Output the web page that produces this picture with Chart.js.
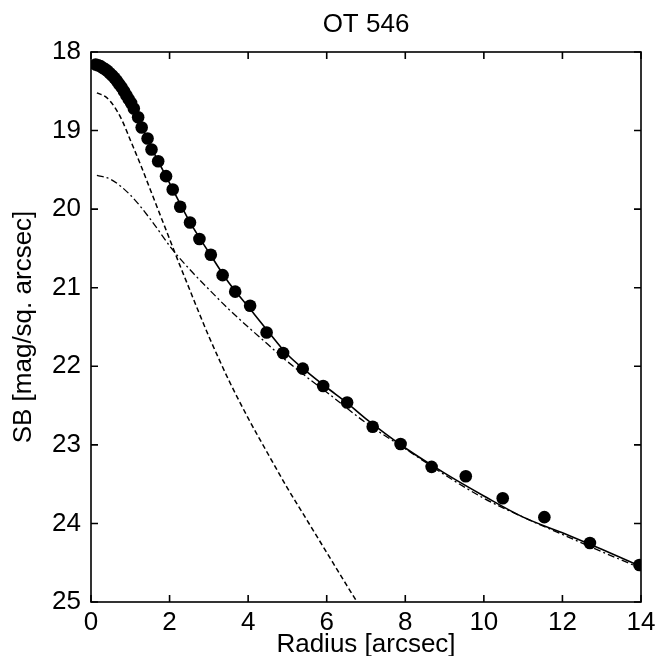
<!DOCTYPE html>
<html>
<head>
<meta charset="utf-8">
<script src="https://cdn.jsdelivr.net/npm/chart.js@4"></script>
<style>
html,body{margin:0;padding:0;background:#fff;}
#wrap{width:661px;height:656px;}
</style>
</head>
<body>
<div id="wrap"><canvas id="c" width="661" height="656"></canvas></div>
<script>
// Observed surface-brightness points
const obsRadius = [0.12,0.18,0.24,0.30,0.36,0.42,0.48,0.54,0.60,0.66,0.72,0.78,0.84,0.90,0.96,1.02,1.09,1.20,1.29,1.44,1.54,1.71,1.91,2.08,2.27,2.52,2.76,3.05,3.35,3.67,4.05,4.47,4.89,5.39,5.91,6.52,7.17,7.88,8.67,9.54,10.48,11.54,12.70,13.96];
const obsSB     = [18.16,18.17,18.18,18.20,18.22,18.24,18.27,18.30,18.33,18.37,18.41,18.45,18.50,18.55,18.60,18.65,18.72,18.83,18.96,19.10,19.24,19.39,19.58,19.75,19.97,20.17,20.38,20.58,20.84,21.05,21.23,21.57,21.83,22.03,22.25,22.46,22.77,22.99,23.28,23.40,23.68,23.92,24.25,24.53];

// Total model (solid)
const totalRadius = [0.10,0.5,1.0,1.5,2.0,2.5,3.0,3.5,4.0,4.5,5.0,5.5,6.0,6.5,7.0,7.5,8.0,9.0,10.0,11.0,12.0,13.0,14.0];
const totalSB     = [18.15,18.26,18.62,19.18,19.67,20.15,20.55,20.93,21.24,21.55,21.85,22.07,22.27,22.46,22.67,22.86,23.04,23.36,23.65,23.92,24.12,24.33,24.55];

// Bulge component (dashed)
const bulgeRadius = [0.15,0.4,0.6,0.8,1.0,1.25,1.5,1.75,2.0,2.25,2.5,2.75,3.0,3.25,3.5,4.0,4.5,5.0,5.5,6.0,6.5,6.75];
const bulgeSB     = [18.52,18.58,18.70,18.88,19.12,19.42,19.74,20.06,20.38,20.70,21.01,21.32,21.62,21.90,22.17,22.66,23.11,23.55,23.96,24.37,24.78,24.98];

// Disk component (dash-dot)
const diskRadius = [0.15,0.5,1.0,1.5,2.05,2.5,3.0,3.5,4.0,4.5,4.81,5.5,6.0,7.0,8.0,9.0,10.0,11.0,12.0,13.0,14.0];
const diskSB     = [19.57,19.62,19.82,20.12,20.50,20.76,21.02,21.27,21.50,21.72,21.86,22.14,22.33,22.72,23.05,23.38,23.68,23.92,24.14,24.36,24.57];

const xTicks = [0,2,4,6,8,10,12,14];
const yTicks = [18,19,20,21,22,23,24,25];

const titleText = 'OT 546';
const xTitle = 'Radius [arcsec]';
const yTitle = 'SB [mag/sq. arcsec]';

const pts = (xs, ys) => xs.map((x, i) => ({x: x, y: ys[i]}));
const FONT = "'Liberation Sans', Arial, Helvetica, sans-serif";

const boxPlugin = {
  id: 'boxPlugin',
  afterDatasetsDraw(chart) {
    const {ctx, chartArea: a, scales} = chart;
    ctx.save();
    ctx.strokeStyle = '#000';
    ctx.lineWidth = 1.6;
    ctx.strokeRect(a.left, a.top, a.right - a.left, a.bottom - a.top);
    const L = 7;
    ctx.beginPath();
    xTicks.forEach(v => {
      const px = scales.x.getPixelForValue(v);
      ctx.moveTo(px, a.bottom); ctx.lineTo(px, a.bottom - L);
      ctx.moveTo(px, a.top); ctx.lineTo(px, a.top + L);
    });
    yTicks.forEach(v => {
      const py = scales.y.getPixelForValue(v);
      ctx.moveTo(a.left, py); ctx.lineTo(a.left + L, py);
      ctx.moveTo(a.right, py); ctx.lineTo(a.right - L, py);
    });
    ctx.stroke();
    // title centred over the plot box
    ctx.fillStyle = '#000';
    ctx.font = '26px ' + FONT;
    ctx.textAlign = 'center';
    ctx.textBaseline = 'middle';
    ctx.fillText(titleText, (a.left + a.right) / 2, 25);
    ctx.restore();
  }
};

new Chart(document.getElementById('c'), {
  type: 'scatter',
  data: {
    datasets: [
      {
        label: 'bulge',
        data: pts(bulgeRadius, bulgeSB),
        showLine: true,
        borderColor: '#000',
        borderWidth: 1.5,
        borderDash: [5, 3],
        pointRadius: 0,
        cubicInterpolationMode: 'monotone',
        order: 3
      },
      {
        label: 'disk',
        data: pts(diskRadius, diskSB),
        showLine: true,
        borderColor: '#000',
        borderWidth: 1.3,
        borderDash: [7, 3, 2, 3],
        pointRadius: 0,
        cubicInterpolationMode: 'monotone',
        order: 2
      },
      {
        label: 'total',
        data: pts(totalRadius, totalSB),
        showLine: true,
        borderColor: '#000',
        borderWidth: 1.6,
        pointRadius: 0,
        cubicInterpolationMode: 'monotone',
        order: 1
      },
      {
        label: 'observed',
        data: pts(obsRadius, obsSB),
        showLine: false,
        pointRadius: 6.3,
        pointBackgroundColor: '#000',
        pointBorderColor: '#000',
        pointBorderWidth: 0,
        order: 0
      }
    ]
  },
  options: {
    responsive: false,
    animation: false,
    devicePixelRatio: 1,
    layout: {padding: {left: 0, right: 20, top: 52, bottom: 0}},
    plugins: {
      legend: {display: false},
      tooltip: {enabled: false},
      title: {display: false}
    },
    scales: {
      x: {
        type: 'linear',
        min: 0, max: 14,
        afterFit(s) { s.height = 54; },
        afterBuildTicks(s) { s.ticks = xTicks.map(v => ({value: v})); },
        grid: {display: false, drawTicks: false},
        border: {display: false},
        ticks: {color: '#000', font: {family: FONT, size: 26}, padding: 5, maxRotation: 0, autoSkip: false},
        title: {display: true, text: xTitle, color: '#000', font: {family: FONT, size: 26}, padding: {top: 0, bottom: -4}}
      },
      y: {
        type: 'linear',
        reverse: true,
        min: 18, max: 25,
        afterFit(s) { s.width = 91; },
        afterBuildTicks(s) { s.ticks = yTicks.map(v => ({value: v})); },
        grid: {display: false, drawTicks: false},
        border: {display: false},
        ticks: {color: '#000', font: {family: FONT, size: 26}, padding: 10, autoSkip: false},
        title: {display: true, text: yTitle, color: '#000', font: {family: FONT, size: 26}, padding: {top: 8, bottom: 0}}
      }
    }
  },
  plugins: [boxPlugin]
});
</script>
</body>
</html>
